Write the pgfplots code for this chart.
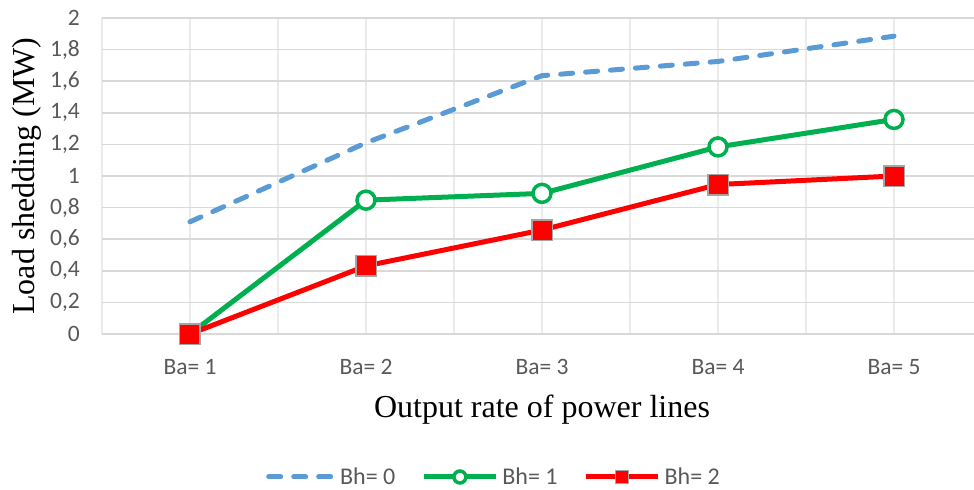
\documentclass[border=0pt]{standalone}
\usepackage{fontspec}
\setmainfont{Liberation Serif}
\newfontfamily\calibri{Carlito}
\usepackage{pgfplots}
\pgfplotsset{compat=1.18}
\definecolor{bblue}{HTML}{5B9BD5}
\definecolor{ggreen}{HTML}{00B050}
\definecolor{rred}{HTML}{FF0000}
\definecolor{tickgray}{HTML}{595959}
\definecolor{hgrid}{HTML}{D9D9D9}
\definecolor{vgrid}{HTML}{EBEBEB}
\definecolor{mborder}{HTML}{A5A5A5}
\pgfplotsset{
  legblue/.style={legend image code/.code={\draw[##1] (0bp,0bp) -- (65bp,0bp);}},
  leggreen/.style={legend image code/.code={\draw[mark repeat=2, mark phase=2, ##1, mark size=6bp]
    plot coordinates {(0bp,0bp) (36bp,0bp) (72bp,0bp)};}},
  legred/.style={legend image code/.code={\draw[mark repeat=2, mark phase=2, ##1, mark size=6.5bp]
    plot coordinates {(0bp,0bp) (36bp,0bp) (72bp,0bp)};}},
}
\begin{document}
\begin{tikzpicture}
\begin{axis}[
  at={(0,0)}, anchor=south west,
  scale only axis, width=880bp, height=316bp,
  xmin=-0.5, xmax=4.5, ymin=0, ymax=2,
  xtick={0,1,2,3,4},
  xticklabels={Ba= 1,Ba= 2,Ba= 3,Ba= 4,Ba= 5},
  minor xtick={-0.5,0.5,1.5,2.5,3.5,4.5},
  ytick={0,0.2,0.4,0.6,0.8,1,1.2,1.4,1.6,1.8,2},
  xmajorgrids, xminorgrids, ymajorgrids,
  major x grid style={vgrid, line width=1.5bp},
  minor x grid style={vgrid, line width=1.5bp},
  major y grid style={hgrid, line width=1.5bp},
  axis line style={draw=none},
  major tick length=0pt, minor tick length=0pt,
  /pgf/number format/assume math mode=true,
  /pgf/number format/use comma,
  tick label style={font={\calibri\fontsize{23.5bp}{28bp}\selectfont}, text=tickgray},
  yticklabel style={anchor=east, inner sep=0pt, xshift=-22bp},
  xticklabel style={anchor=north, inner sep=0pt, yshift=-25bp},
  clip=false,
  xlabel={Output rate of power lines},
  ylabel={Load shedding (MW)},
  label style={font={\fontsize{32bp}{38bp}\selectfont}},
  xlabel style={at={(axis description cs:0.5,-0.2658)}, anchor=base},
  ylabel style={at={(axis description cs:-0.0852,0.5)}, anchor=center},
  legend columns=3,
  legend style={at={(axis description cs:0.4466,-0.4525)}, anchor=center,
    draw=none, fill=none, inner sep=0pt,
    font={\calibri\fontsize{24bp}{28bp}\selectfont}, text=tickgray,
    /tikz/every even column/.append style={column sep=22bp},
    nodes={inner xsep=4bp, inner ysep=0bp}},
]
\addplot[bblue, line width=5bp, dash pattern=on 12bp off 13bp, line cap=round, legblue]
  coordinates {(0,0.71) (1,1.21) (2,1.635) (3,1.725) (4,1.885)};
\addlegendentry{Bh= 0}
\addplot[ggreen, line width=5bp, mark=*, mark size=9bp,
  mark options={fill=white, draw=ggreen, line width=3.5bp}, leggreen]
  coordinates {(0,0) (1,0.847) (2,0.89) (3,1.184) (4,1.358)};
\addlegendentry{Bh= 1}
\addplot[rred, line width=5bp, mark=square*, mark size=10.25bp,
  mark options={fill=rred, draw=mborder, line width=1.5bp}, legred]
  coordinates {(0,0) (1,0.431) (2,0.658) (3,0.946) (4,1.0)};
\addlegendentry{Bh= 2}
\end{axis}
\pgfresetboundingbox
\useasboundingbox (-102bp,-156bp) rectangle (872bp,334bp);
\end{tikzpicture}
\end{document}
